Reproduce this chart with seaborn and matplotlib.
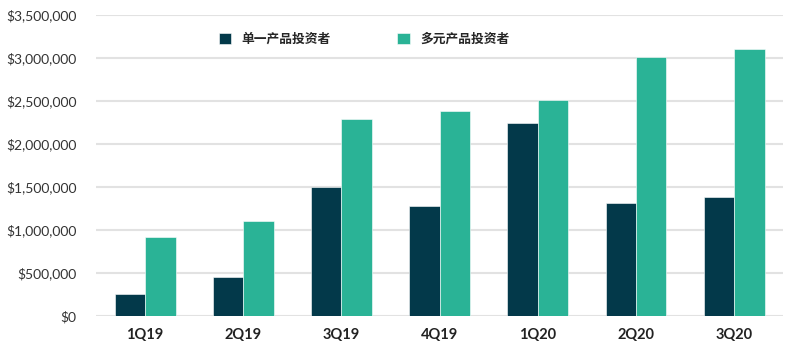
import seaborn as sns
import matplotlib.pyplot as plt
import pandas as pd
from matplotlib.ticker import FuncFormatter

quarters = ["1Q19", "2Q19", "3Q19", "4Q19", "1Q20", "2Q20", "3Q20"]
single_product = [258000, 450000, 1500000, 1280000, 2240000, 1310000, 1380000]
multi_product = [920000, 1100000, 2290000, 2380000, 2510000, 3010000, 3110000]
series_names = ["单一产品投资者", "多元产品投资者"]

df = pd.DataFrame({
    "季度": quarters * 2,
    "金额": single_product + multi_product,
    "类型": [series_names[0]] * len(quarters) + [series_names[1]] * len(quarters),
})

sns.set_style("white")
plt.rcParams['font.family'] = ['Lato', 'Noto Sans CJK SC', 'DejaVu Sans']

fig = plt.figure(figsize=(8, 3.63), dpi=100)
ax = fig.add_axes([0.12, 0.1295, 0.859, 0.8292])

sns.barplot(data=df, x="季度", y="金额", hue="类型", order=quarters,
            hue_order=series_names, palette=["#03394A", "#2AB396"],
            width=0.62, saturation=1, ax=ax, edgecolor="white", linewidth=0.4)

ax.set_ylim(0, 3500000)
ax.set_yticks(range(0, 3500001, 500000))
ax.yaxis.set_major_formatter(FuncFormatter(lambda v, p: f"${int(v):,}"))
ax.grid(axis="y", color="#e2e2e2", linewidth=1.5)
ax.set_axisbelow(True)
for s in ax.spines.values():
    s.set_visible(False)
ax.set_xlabel("")
ax.set_ylabel("")
ax.tick_params(axis="y", length=0, labelsize=10, labelcolor="#333333", pad=14)
ax.tick_params(axis="x", length=0, labelsize=10.5, labelcolor="#222222", pad=9)
for t in ax.get_xticklabels():
    t.set_fontweight("bold")

ax.legend(loc="upper center", bbox_to_anchor=(0.39, 0.98), ncol=2, frameon=False,
          columnspacing=5.2, handlelength=1, handleheight=1, handletextpad=0.8,
          prop={"family": ["Noto Sans CJK SC"], "size": 9.2, "weight": "bold"})

fig.savefig("out.png", dpi=100)
